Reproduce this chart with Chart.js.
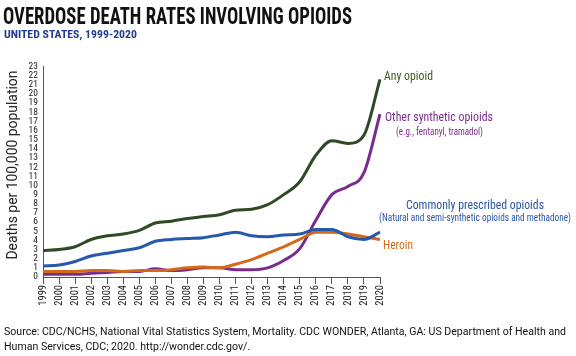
<!DOCTYPE html>
<html><head><meta charset="utf-8">
<script src="https://cdn.jsdelivr.net/npm/chart.js@4"></script>
<style>
html,body{margin:0;padding:0;background:#fff;}
#wrap{position:relative;width:576px;height:356px;overflow:hidden;}
#c{position:absolute;left:0;top:0;}
.t{position:absolute;white-space:nowrap;font-family:'Roboto Condensed',Roboto,sans-serif;line-height:1;transform-origin:0 0;display:inline-block;}
</style></head><body>
<div id="wrap">
<canvas id="c" width="576" height="356"></canvas>
<div class="t" data-w="349" style="left:3px;top:4.5px;font-size:23px;font-weight:700;color:#111;">OVERDOSE DEATH RATES INVOLVING OPIOIDS</div>
<div class="t" data-w="133" style="left:4px;top:28.5px;font-size:11.8px;font-weight:700;color:#233b8c;">UNITED STATES, 1999-2020</div>
<div class="t" id="ytitle" style="left:-82px;top:164px;width:189px;text-align:center;transform-origin:50% 50%;font-family:Roboto,sans-serif;font-size:15px;line-height:17px;color:#222;"><span id="ytspan" style="display:inline-block;transform-origin:50% 50%;">Deaths per 100,000 population</span></div>
<div class="t" data-w="49" style="left:384px;top:70px;font-size:12.7px;color:#3c5a1e;">Any opioid</div>
<div class="t" data-w="108" style="left:385px;top:110px;font-size:13.5px;color:#7a2b8c;">Other synthetic opioids</div>
<div class="t" data-w="87" style="left:396px;top:126.5px;font-size:10px;color:#7a2b8c;">(e.g., fentanyl, tramadol)</div>
<div class="t" data-w="138" style="left:406px;top:198px;font-size:13.5px;color:#2a55a6;">Commonly prescribed opioids</div>
<div class="t" data-w="192" style="left:379px;top:212.5px;font-size:10px;color:#2a55a6;">(Natural and semi-synthetic opioids and methadone)</div>
<div class="t" data-w="30" style="left:383px;top:237.5px;font-size:13.5px;color:#d2691c;">Heroin</div>
<div class="t" id="src" style="left:4px;top:324px;font-size:11.3px;color:#111;font-family:Roboto,sans-serif;line-height:15px;"><span id="src1">Source: CDC/NCHS, National Vital Statistics System, Mortality. CDC WONDER, Atlanta, GA: US Department of Health and</span><br>Human Services, CDC; 2020. http://wonder.cdc.gov/.</div>
</div>
<script>
const years = ['1999','2000','2001','2002','2003','2004','2005','2006','2007','2008','2009','2010','2011','2012','2013','2014','2015','2016','2017','2018','2019','2020'];
const anyOpioid = [2.9,3.0,3.3,4.1,4.5,4.7,5.1,5.9,6.1,6.4,6.6,6.8,7.3,7.4,7.9,9.0,10.4,13.3,14.9,14.6,15.5,21.6];
const otherSynthetic = [0.3,0.3,0.3,0.4,0.5,0.6,0.6,0.9,0.7,0.8,1.0,1.0,0.8,0.8,1.0,1.8,3.1,6.2,9.0,9.9,11.4,17.8];
const commonlyPrescribed = [1.2,1.3,1.7,2.3,2.6,2.9,3.2,3.9,4.1,4.2,4.3,4.6,4.9,4.5,4.4,4.6,4.7,5.2,5.2,4.4,4.1,4.9];
const heroin = [0.6,0.6,0.6,0.7,0.7,0.6,0.7,0.7,0.8,1.0,1.1,1.0,1.4,1.9,2.6,3.3,4.1,4.9,4.9,4.7,4.4,4.1];
const yTicks = [0,1,2,3,4,5,6,7,8,9,10,11,12,13,14,15,16,17,18,19,20,21,22,23];

// fit text blocks to their measured widths in the reference
document.querySelectorAll('.t[data-w]').forEach(el=>{
  const w=el.getBoundingClientRect().width; const s=(+el.dataset.w)/w; el.style.transform='scaleX('+s+')';
});
(function(){const s1=document.getElementById('src1');const w=s1.getBoundingClientRect().width;
  document.getElementById('src').style.transform='scaleX('+(562/w)+')';
  const sp=document.getElementById('ytspan');const w2=sp.getBoundingClientRect().width;
  sp.style.transform='scaleX('+(189/w2)+')';
  document.getElementById('ytitle').style.transform='rotate(-90deg)';})();

function ds(data,color,order){return {data,borderColor:color,backgroundColor:color,borderWidth:3,pointRadius:0,cubicInterpolationMode:'monotone',order,fill:false};}
const tickFont="'Roboto Condensed',Roboto,sans-serif";
new Chart(document.getElementById('c'),{
  type:'line',
  data:{labels:years,datasets:[
    ds(anyOpioid,'#2f4a25',1),
    ds(commonlyPrescribed,'#2459ad',2),
    ds(heroin,'#d4691c',3),
    ds(otherSynthetic,'#7a2b8c',4)
  ]},
  options:{
    responsive:false,animation:false,
    layout:{padding:{left:0,top:66.5,right:196,bottom:39}},
    plugins:{legend:{display:false},tooltip:{enabled:false}},
    scales:{
      x:{offset:false,
        grid:{display:true,drawOnChartArea:false,drawTicks:true,tickLength:7,color:'#555',lineWidth:1},
        border:{display:true,color:'#555',width:1},
        ticks:{autoSkip:false,maxRotation:90,minRotation:90,padding:1,color:'#222',font:{family:tickFont,size:10.5}},
        afterFit(s){s.height=40;}
      },
      y:{min:0,max:23,
        afterBuildTicks(s){s.ticks=yTicks.map(v=>({value:v}));},
        grid:{display:false,drawTicks:false},
        border:{display:true,color:'#555',width:1},
        ticks:{autoSkip:false,padding:5,color:'#222',font:{family:tickFont,size:9.5}},
        afterFit(s){s.width=43;}
      }
    }
  }
});
</script>
</body></html>
